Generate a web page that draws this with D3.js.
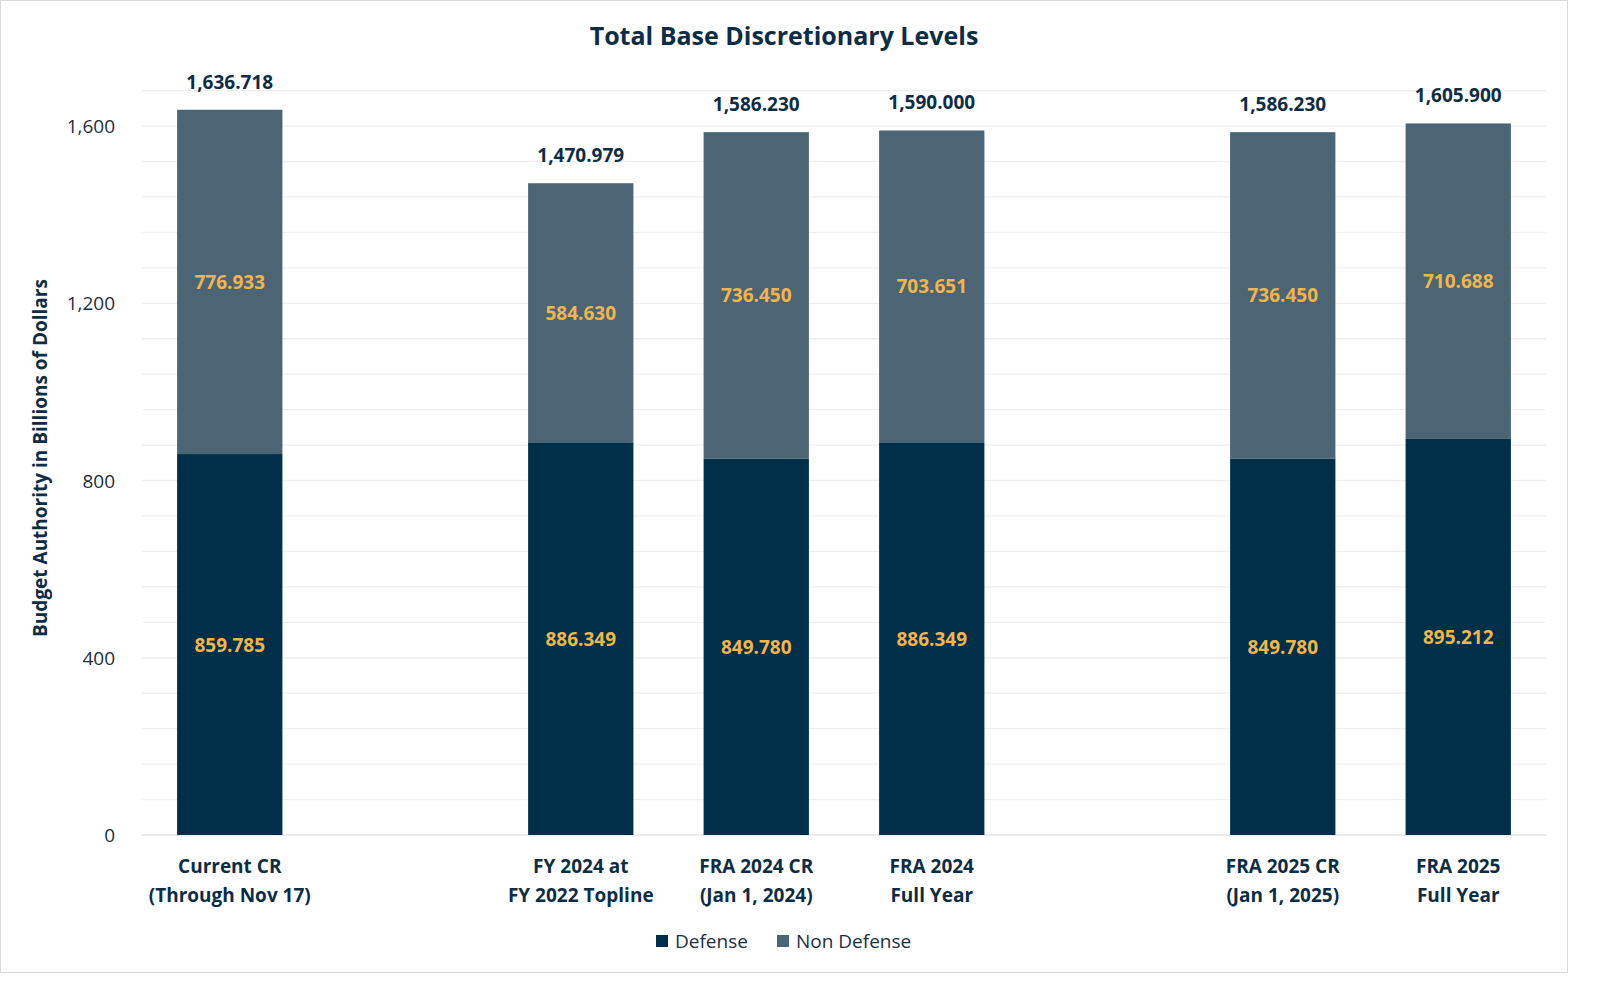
<!DOCTYPE html>
<html><head><meta charset="utf-8">
<script src="https://cdn.jsdelivr.net/npm/d3@7"></script>
<style>body{margin:0;background:#fff}svg{font-family:"Open Sans",sans-serif}</style>
</head><body><svg id="c" width="1600" height="994"></svg>
<script>
// category slots ("" = empty gap)
var slots = ["a", "g1", "b", "c", "d", "g2", "e", "f"];
var labels = {
    a: ["Current CR", "(Through Nov 17)"],
    b: ["FY 2024 at", "FY 2022 Topline"],
    c: ["FRA 2024 CR", "(Jan 1, 2024)"],
    d: ["FRA 2024", "Full Year"],
    e: ["FRA 2025 CR", "(Jan 1, 2025)"],
    f: ["FRA 2025", "Full Year"]
};
var cats = ["a", "b", "c", "d", "e", "f"];
var defense = [859.785, 886.349, 849.780, 886.349, 849.780, 895.212];
var nonDefense = [776.933, 584.630, 736.450, 703.651, 736.450, 710.688];
var totals = ["1,636.718", "1,470.979", "1,586.230", "1,590.000", "1,586.230", "1,605.900"];
var yTicks = [0, 400, 800, 1200, 1600];

var svg = d3.select("#c");
svg.append("rect").attr("x", 0.5).attr("y", 0.5).attr("width", 1567).attr("height", 972)
    .attr("fill", "#fff").attr("stroke", "#d9d9d9");

var x = d3.scaleBand().domain(slots).range([142, 1546]).paddingInner(0.4).paddingOuter(0.2);
var y = d3.scaleLinear().domain([0, 1680]).range([835, 90.6]);

// gridlines every 80
svg.append("g").selectAll("line").data(d3.range(80, 1681, 80)).join("line")
    .attr("x1", 142).attr("x2", 1546).attr("y1", y).attr("y2", y)
    .attr("stroke", "#efefef").attr("stroke-width", 1.3);
svg.append("line").attr("x1", 142).attr("x2", 1546).attr("y1", y(0)).attr("y2", y(0))
    .attr("stroke", "#d9d9d9");

svg.append("g").selectAll("text").data(yTicks).join("text")
    .attr("x", 115).attr("y", function(d) { return y(d) + 7; })
    .attr("text-anchor", "end").attr("font-size", 19).attr("fill", "#1a2f3f")
    .text(d3.format(","));

var bw = x.bandwidth();
cats.forEach(function(c, i) {
    var x0 = x(c), cx = x0 + bw / 2;
    svg.append("rect").attr("x", x0).attr("width", bw)
        .attr("y", y(defense[i])).attr("height", y(0) - y(defense[i])).attr("fill", "#003049");
    var top = defense[i] + nonDefense[i];
    svg.append("rect").attr("x", x0).attr("width", bw)
        .attr("y", y(top)).attr("height", y(defense[i]) - y(top)).attr("fill", "#4b6575");
    svg.append("text").attr("x", cx).attr("y", y(defense[i] / 2) + 7)
        .attr("text-anchor", "middle").attr("font-size", 19).attr("font-weight", "bold")
        .attr("fill", "#f2b54c").text(defense[i].toFixed(3));
    svg.append("text").attr("x", cx).attr("y", y(defense[i] + nonDefense[i] / 2) + 7)
        .attr("text-anchor", "middle").attr("font-size", 19).attr("font-weight", "bold")
        .attr("fill", "#f2b54c").text(nonDefense[i].toFixed(3));
    svg.append("text").attr("x", cx).attr("y", y(top) - 21)
        .attr("text-anchor", "middle").attr("font-size", 19).attr("font-weight", "bold")
        .attr("fill", "#0d2d45").text(totals[i]);
    labels[c].forEach(function(l, j) {
        svg.append("text").attr("x", cx).attr("y", 873 + j * 29)
            .attr("text-anchor", "middle").attr("font-size", 19).attr("font-weight", "bold")
            .attr("fill", "#0d2d45").text(l);
    });
});

svg.append("text").attr("x", 784).attr("y", 45).attr("text-anchor", "middle")
    .attr("font-size", 25).attr("font-weight", "bold").attr("fill", "#0d2d45")
    .text("Total Base Discretionary Levels");
svg.append("text").attr("transform", "translate(47,458) rotate(-90)").attr("text-anchor", "middle")
    .attr("font-size", 19).attr("font-weight", "bold").attr("fill", "#0d2d45")
    .text("Budget Authority in Billions of Dollars");

var leg = [["Defense", "#003049", 656], ["Non Defense", "#4b6575", 777]];
leg.forEach(function(l) {
    svg.append("rect").attr("x", l[2]).attr("y", 935).attr("width", 12).attr("height", 12).attr("fill", l[1]);
    svg.append("text").attr("x", l[2] + 19).attr("y", 948).attr("font-size", 19)
        .attr("fill", "#1a2f3f").text(l[0]);
});
</script></body></html>
